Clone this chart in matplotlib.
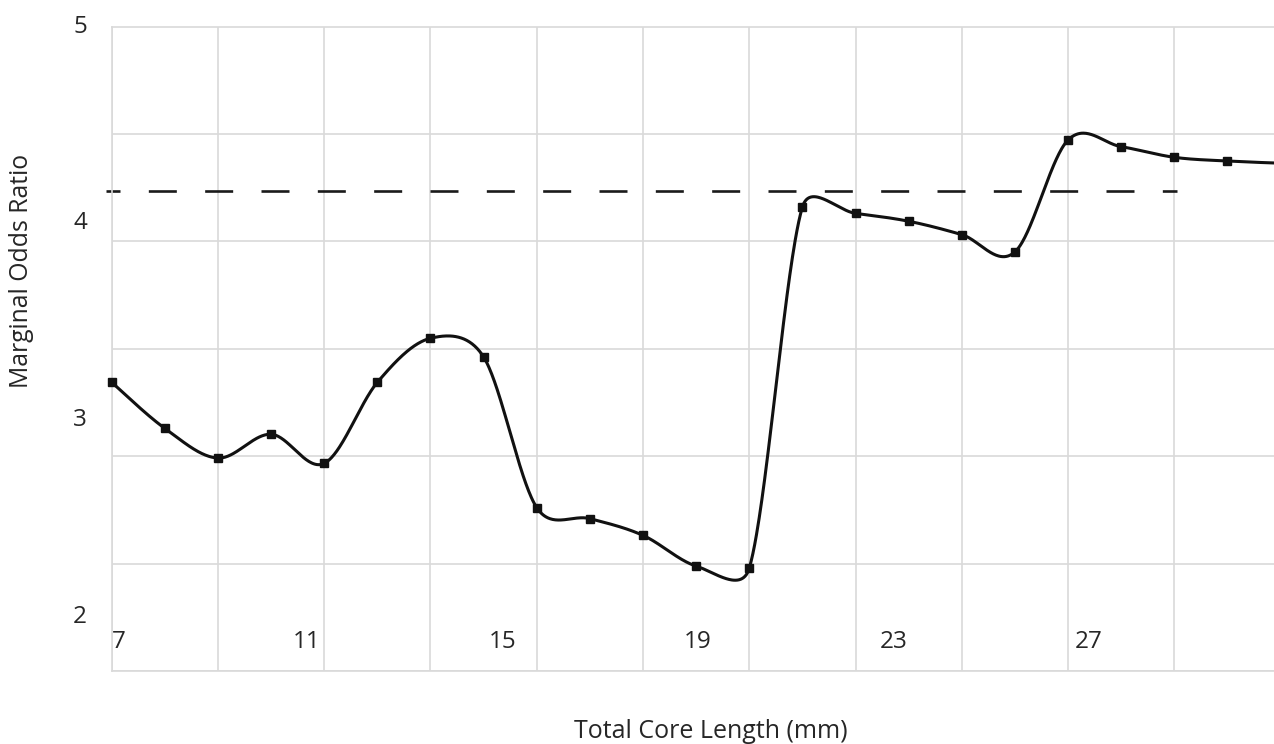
import numpy as np
import matplotlib
matplotlib.use("Agg")
import matplotlib.pyplot as plt

# ---------------- data ----------------
core_length = [7, 8, 9, 10, 11, 12, 13, 14, 15, 16, 17, 18, 19, 20, 21, 22, 23, 24, 25, 26, 27, 28, 29]
odds_ratio = [3.192, 2.958, 2.807, 2.928, 2.780, 3.192, 3.416, 3.321, 2.555, 2.499, 2.414,
              2.258, 2.247, 4.083, 4.051, 4.011, 3.943, 3.855, 4.424, 4.390, 4.336, 4.317, 4.306]
reference_level = 4.166
reference_span = [6.893, 27.06]
x_tick_labels = ["7", "11", "15", "19", "23", "27"]
y_tick_values = [5, 4, 3, 2]
y_tick_labels = ["5", "4", "3", "2"]

plt.rcParams['font.family'] = ['Open Sans', 'DejaVu Sans']
plt.rcParams['lines.scale_dashes'] = False
TXT = '#262626'
GRID = '#d9d9d9'


def excel_smooth(ax, x, y, n=60):
    """Excel-style smoothed line: Bezier segments, control offsets (P[i+1]-P[i-1])/6
    capped at half of the segment length, computed in display space."""
    pts = ax.transData.transform(np.column_stack([x, y]))
    m = len(pts)
    t = np.linspace(0, 1, n)[:, None]
    out = []
    for i in range(m - 1):
        p0 = pts[i - 1] if i > 0 else pts[i]
        p1, p2 = pts[i], pts[i + 1]
        p3 = pts[i + 2] if i + 2 < m else pts[i + 1]
        half = np.linalg.norm(p2 - p1) / 2
        v1 = (p2 - p0) / 6
        v2 = (p3 - p1) / 6
        for v in (v1, v2):
            L = np.linalg.norm(v)
            if L > half and L > 0:
                v *= half / L
        c1, c2 = p1 + v1, p2 - v2
        seg = ((1 - t) ** 3) * p1 + 3 * ((1 - t) ** 2) * t * c1 + 3 * (1 - t) * t ** 2 * c2 + t ** 3 * p2
        out.append(seg if i == 0 else seg[1:])
    curve = np.vstack(out)
    return ax.transData.inverted().transform(curve)


W, H = 1274, 744
fig = plt.figure(figsize=(W / 100, H / 100), dpi=100)
left_px, top_px, bottom_px = 111.7, 26.7, 671.0
ax = fig.add_axes([left_px / W, 1 - bottom_px / H, (W - left_px) / W, (bottom_px - top_px) / H])

x_lo = 7.0
x_hi = 7 + (W - left_px) / 53.13
y_hi = 5.0
y_lo = 5 - (bottom_px - top_px) / 196.7
ax.set_xlim(x_lo, x_hi)
ax.set_ylim(y_lo, y_hi)

# grid lines (minor ticks)
ax.set_xticks(np.arange(7, 28, 2), minor=True)
ax.set_yticks(np.linspace(y_lo, y_hi, 7), minor=True)
ax.grid(which='minor', color=GRID, linewidth=1.2)
ax.tick_params(which='minor', length=0)

# labels (major ticks)
ax.set_xticks(7.256 + np.arange(len(x_tick_labels)) * 3.679, x_tick_labels)
ax.set_yticks(y_tick_values, y_tick_labels)
ax.tick_params(which='major', length=0, labelsize=17.5, labelcolor=TXT)
ax.tick_params(axis='y', which='major', pad=17.8)
ax.tick_params(axis='x', which='major', pad=-20.9)
for lbl in ax.get_xticklabels():
    lbl.set_va('center')
    lbl.set_ha('right')
for lbl in ax.get_yticklabels():
    lbl.set_va('center')

for s in ['left', 'bottom', 'top']:
    ax.spines[s].set_color(GRID)
    ax.spines[s].set_linewidth(1.2)
ax.spines['right'].set_visible(False)
ax.set_axisbelow(True)

# dashed reference line
ax.plot(reference_span, [reference_level, reference_level], color='#1a1a1a', lw=1.9,
        linestyle=(10.08, (20.16, 20.4)), dash_capstyle='butt', clip_on=False, zorder=2)

# smooth curve + markers
curve = excel_smooth(ax, core_length, odds_ratio)
ax.plot(curve[:, 0], curve[:, 1], color='#111111', lw=2.2, zorder=3, solid_capstyle='round')
ax.plot(core_length, odds_ratio, linestyle='none', marker='s', markersize=5.3,
        color='#111111', zorder=4, clip_on=False)

ax.set_xlabel("Total Core Length (mm)", fontsize=18, color=TXT, va='center')
ax.xaxis.set_label_coords((710.5 - left_px) / (W - left_px), (bottom_px - 731.7) / (bottom_px - top_px))
ax.set_ylabel("Marginal Odds Ratio", fontsize=17.8, color=TXT, va='center')
ax.yaxis.set_label_coords((21.7 - left_px) / (W - left_px), (bottom_px - 270.5) / (bottom_px - top_px))

fig.savefig("out.png", dpi=100)
